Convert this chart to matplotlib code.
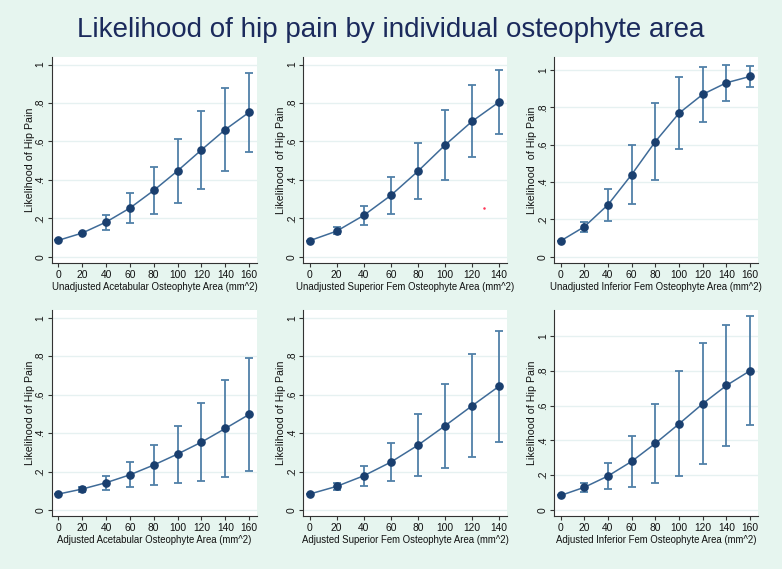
import matplotlib
matplotlib.use("Agg")
import matplotlib.pyplot as plt

plt.rcParams['font.family'] = ['Liberation Sans', 'DejaVu Sans']

# ---------------- data ----------------
x160 = [0, 20, 40, 60, 80, 100, 120, 140, 160]
x140 = [0, 20, 40, 60, 80, 100, 120, 140]

p1_y = [0.085, 0.123, 0.180, 0.253, 0.345, 0.447, 0.556, 0.662, 0.752]
p1_lo = [0.085, 0.123, 0.140, 0.177, 0.222, 0.279, 0.355, 0.445, 0.544]
p1_hi = [0.085, 0.123, 0.218, 0.331, 0.466, 0.615, 0.761, 0.877, 0.958]

p2_y = [0.083, 0.133, 0.215, 0.319, 0.445, 0.581, 0.705, 0.806]
p2_lo = [0.083, 0.118, 0.165, 0.222, 0.298, 0.399, 0.518, 0.640]
p2_hi = [0.083, 0.152, 0.263, 0.416, 0.594, 0.766, 0.896, 0.972]

p3_y = [0.084, 0.160, 0.278, 0.440, 0.617, 0.769, 0.870, 0.932, 0.966]
p3_lo = [0.084, 0.130, 0.190, 0.281, 0.413, 0.575, 0.724, 0.836, 0.907]
p3_hi = [0.084, 0.187, 0.365, 0.600, 0.822, 0.961, 1.018, 1.027, 1.023]

p4_y = [0.083, 0.109, 0.142, 0.183, 0.234, 0.291, 0.353, 0.424, 0.497]
p4_lo = [0.083, 0.095, 0.106, 0.118, 0.130, 0.140, 0.152, 0.173, 0.201]
p4_hi = [0.083, 0.121, 0.178, 0.249, 0.336, 0.439, 0.554, 0.675, 0.791]

p5_y = [0.083, 0.123, 0.178, 0.249, 0.337, 0.438, 0.542, 0.644]
p5_lo = [0.083, 0.102, 0.125, 0.149, 0.178, 0.216, 0.277, 0.355]
p5_hi = [0.083, 0.142, 0.230, 0.349, 0.497, 0.657, 0.811, 0.933]

p6_y = [0.083, 0.130, 0.195, 0.279, 0.383, 0.495, 0.611, 0.716, 0.801]
p6_lo = [0.083, 0.103, 0.118, 0.132, 0.155, 0.195, 0.265, 0.366, 0.486]
p6_hi = [0.083, 0.157, 0.271, 0.427, 0.611, 0.801, 0.959, 1.066, 1.118]

stray_x = [128.5]
stray_y = [0.256]

yticks = [0, 0.2, 0.4, 0.6, 0.8, 1.0]
ytick_labels = ["0", ".2", ".4", ".6", ".8", "1"]

xlabels = [
    "Unadjusted Acetabular Osteophyte Area (mm^2)",
    "Unadjusted Superior Fem Osteophyte Area (mm^2)",
    "Unadjusted Inferior Fem Osteophyte Area (mm^2)",
    "Adjusted Acetabular Osteophyte Area (mm^2)",
    "Adjusted Superior Fem Osteophyte Area (mm^2)",
    "Adjusted Inferior Fem Osteophyte Area (mm^2)",
]
ylabels = [
    "Likelihood of Hip Pain",
    "Likelihood  of Hip Pain",
    "Likelihood  of Hip Pain",
    "Likelihood of Hip Pain",
    "Likelihood of Hip Pain",
    "Likelihood of Hip Pain",
]
title = "Likelihood of hip pain by individual osteophyte area"

panels = [
    (x160, p1_y, p1_lo, p1_hi),
    (x140, p2_y, p2_lo, p2_hi),
    (x160, p3_y, p3_lo, p3_hi),
    (x160, p4_y, p4_lo, p4_hi),
    (x140, p5_y, p5_lo, p5_hi),
    (x160, p6_y, p6_lo, p6_hi),
]
ylims = [(-0.033, 1.04), (-0.033, 1.04), (-0.034, 1.07),
         (-0.031, 1.04), (-0.031, 1.04), (-0.035, 1.15)]

# ---------------- layout ----------------
W, H = 782, 569
BG = "#E6F5EF"
NAVY = "#1A3F6F"
LINE = "#3F6B98"
ERR = "#5180A8"
GRID = "#E6F1F1"

fig = plt.figure(figsize=(W / 100, H / 100), dpi=100, facecolor=BG)

cols = [(52, 257), (303.3, 507), (554.3, 758)]
rows = [(57, 263), (310, 516)]

for i, (xs, ys, lo, hi) in enumerate(panels):
    r, c = divmod(i, 3)
    l, rr = cols[c]
    t, b = rows[r]
    ax = fig.add_axes([l / W, 1 - b / H, (rr - l) / W, (b - t) / H])
    ax.set_facecolor("white")
    xmax = xs[-1]
    pad = xmax * 0.033
    ax.set_xlim(-pad, xmax + pad * 1.25)
    ax.set_ylim(*ylims[i])
    for yt in yticks:
        ax.axhline(yt, color=GRID, lw=1.0, zorder=0)
    err_lo = [y - l_ for y, l_ in zip(ys, lo)]
    err_hi = [h_ - y for y, h_ in zip(ys, hi)]
    ax.errorbar(xs, ys, yerr=[err_lo, err_hi], fmt="none", ecolor=ERR,
                elinewidth=1.3, capsize=2.6, capthick=1.3, zorder=2)
    ax.plot(xs, ys, color=LINE, lw=1.1, zorder=3)
    ax.plot(xs, ys, "o", color=NAVY, ms=5.2, zorder=4)
    if i == 1:
        ax.plot(stray_x, stray_y, "o", color="#FF3355", ms=1.8, mew=0, zorder=5)
    ax.set_xticks(xs)
    ax.set_xticklabels([str(v) for v in xs])
    ax.set_yticks(yticks)
    ax.set_yticklabels(ytick_labels, rotation=90, va="center")
    for s in ["top", "right"]:
        ax.spines[s].set_visible(False)
    for s in ["left", "bottom"]:
        ax.spines[s].set_color("#333333")
        ax.spines[s].set_linewidth(0.8)
    ax.tick_params(axis="both", direction="out", length=3.2, width=0.8,
                   color="#333333", labelsize=7.4, labelcolor="#111111", pad=1.5)
    ax.set_xlabel(xlabels[i], fontsize=6.9, color="#111111", labelpad=1.5)
    ax.set_ylabel(ylabels[i], fontsize=7.7, color="#111111", labelpad=0.5)

fig.text(0.5, 1 - 30 / H, title, ha="center", va="center",
         fontsize=20, color="#1B2A5C")

fig.savefig("out.png", dpi=100, facecolor=BG)
